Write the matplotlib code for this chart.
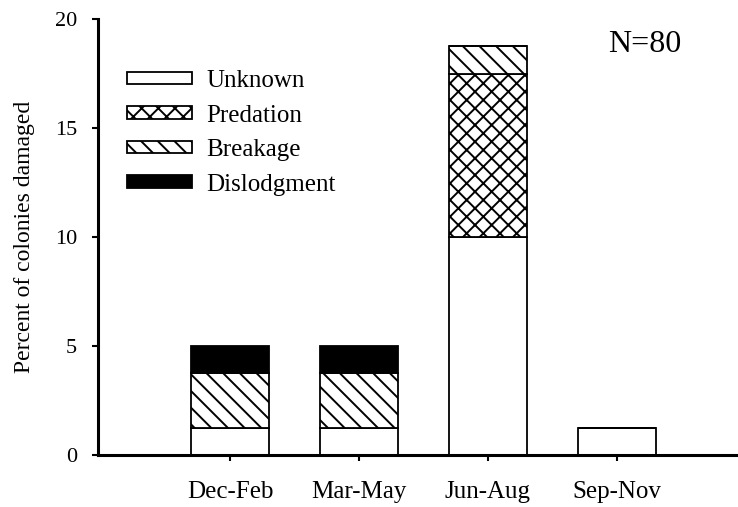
import matplotlib
matplotlib.use('Agg')
import matplotlib.pyplot as plt
import numpy as np

plt.rcParams['font.family'] = ['Liberation Serif', 'DejaVu Serif']
plt.rcParams['hatch.linewidth'] = 1.4
plt.rcParams['hatch.color'] = 'black'

# --- data (percent of N=80 colonies) ---
seasons = ['Dec-Feb', 'Mar-May', 'Jun-Aug', 'Sep-Nov']
unknown = [1.25, 1.25, 10.0, 1.25]
predation = [0.0, 0.0, 7.5, 0.0]
breakage = [2.5, 2.5, 1.25, 0.0]
dislodgment = [1.25, 1.25, 0.0, 0.0]

series = [
    ('Unknown', unknown, 'white', ''),
    ('Predation', predation, 'white', 'xx'),
    ('Breakage', breakage, 'white', '\\\\'),
    ('Dislodgment', dislodgment, 'black', ''),
]

fig = plt.figure(figsize=(7.38, 5.07), dpi=100)
ax = fig.add_axes([98 / 738, 1 - 455 / 507, 1 - 98 / 738, (455 - 19) / 507])

x = np.arange(len(seasons))
bottom = np.zeros(len(seasons))
handles = []
for name, vals, fc, hatch in series:
    vals = np.array(vals)
    bars = ax.bar(x, vals, width=0.6, bottom=bottom, color=fc, edgecolor='black',
                  linewidth=1.3, hatch=hatch, label=name)
    handles.append(bars)
    bottom += vals

ax.set_xlim(-1.023, 3.938)
ax.set_ylim(0, 20)
ax.set_yticks([0, 5, 10, 15, 20])
ax.set_xticks(x)
ax.set_xticklabels(seasons, fontsize=18)
ax.tick_params(axis='y', labelsize=16, length=4, width=1.5, direction='out', pad=11)
ax.tick_params(axis='x', length=4, width=1.5, direction='out', pad=15)

for s in ['top', 'right']:
    ax.spines[s].set_visible(False)
for s in ['left', 'bottom']:
    ax.spines[s].set_linewidth(2.2)

ax.set_ylabel('Percent of colonies damaged', fontsize=17, labelpad=14)

ax.text(645 / 738, 1 - 45 / 507, 'N=80', transform=fig.transFigure,
        ha='center', va='center', fontsize=23)

leg = ax.legend(handles=handles, loc='upper left',
                bbox_to_anchor=(127 / 738, 1 - 70 / 507), bbox_transform=fig.transFigure,
                frameon=False, fontsize=18, borderpad=0, borderaxespad=0,
                handlelength=2.6, handleheight=0.4, handletextpad=0.56,
                labelspacing=0.5)

fig.savefig('out.png', dpi=100)
